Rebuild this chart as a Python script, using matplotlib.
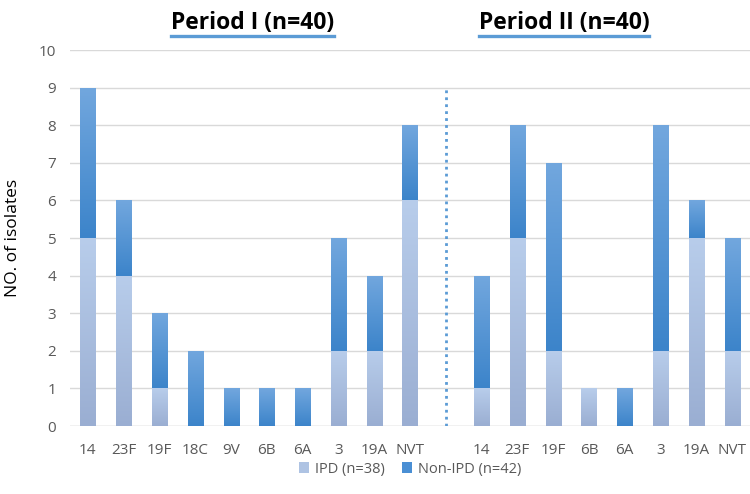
import matplotlib
matplotlib.use("Agg")
import matplotlib.pyplot as plt
import numpy as np
from matplotlib.colors import LinearSegmentedColormap
from matplotlib.patches import Patch

plt.rcParams['font.family'] = ['Open Sans', 'DejaVu Sans']

cats_p1 = ["14", "23F", "19F", "18C", "9V", "6B", "6A", "3", "19A", "NVT"]
ipd_p1 = [5, 4, 1, 0, 0, 0, 0, 2, 2, 6]
non_p1 = [4, 2, 2, 2, 1, 1, 1, 3, 2, 2]
cats_p2 = ["14", "23F", "19F", "6B", "6A", "3", "19A", "NVT"]
ipd_p2 = [1, 5, 2, 1, 0, 2, 5, 2]
non_p2 = [3, 3, 5, 0, 1, 6, 1, 3]
titles = ["Period I (n=40)", "Period II (n=40)"]
legend_labels = ["IPD (n=38)", "Non-IPD (n=42)"]

labels = cats_p1 + [""] + cats_p2
ipd = ipd_p1 + [0] + ipd_p2
non = non_p1 + [0] + non_p2
x = np.arange(len(labels))
gap_x = len(cats_p1)

fig = plt.figure(figsize=(7.5, 4.94), dpi=100)
ax = fig.add_axes([70/750, 1-426/494, 680/750, 376/494])

w = 0.42
b1 = ax.bar(x, ipd, width=w, color='none', edgecolor='none', zorder=3)
b2 = ax.bar(x, non, width=w, bottom=ipd, color='none', edgecolor='none', zorder=3)

cm_ipd = LinearSegmentedColormap.from_list('ipd', ['#9aaed2', '#b8cdeb'])
cm_non = LinearSegmentedColormap.from_list('non', ['#3c84ca', '#72a7de'])
grad = np.linspace(0, 1, 256).reshape(-1, 1)
for bars, cm in ((b1, cm_ipd), (b2, cm_non)):
    for p in bars:
        if p.get_height() <= 0:
            continue
        x0, y0 = p.get_x(), p.get_y()
        x1, y1 = x0 + p.get_width(), y0 + p.get_height()
        im = ax.imshow(grad, cmap=cm, origin='lower', aspect='auto',
                       extent=(x0, x1, y0, y1), zorder=3, interpolation='bilinear')
        im.set_clip_path(p)

ax.set_xlim(-0.5, len(labels) - 0.5)
ax.set_ylim(0, 10)
ax.set_yticks(range(0, 11))
ax.set_xticks(x)
ax.set_xticklabels(labels)
ax.tick_params(axis='both', length=0, labelsize=11, colors='#595959')
ax.tick_params(axis='x', pad=12)
ax.tick_params(axis='y', pad=10)
ax.yaxis.grid(True, color='#d9d9d9', linewidth=1, zorder=0)
ax.set_axisbelow(True)
for s in ax.spines.values():
    s.set_visible(False)
ax.axhline(0, color='#d9d9d9', linewidth=1, zorder=1)

ax.vlines(gap_x, 0, 9, colors='#5b9bd5', linestyles=(0, (1, 1.5)), linewidth=2, zorder=2)

ax.set_ylabel("NO. of isolates", fontsize=12.5, color='black', labelpad=13)

for cx, t in zip((4.6, 13.3), titles):
    ax.text(cx, 10.4, t, ha='center', va='bottom', fontsize=16.5,
            fontweight='bold', color='black', transform=ax.transData)
fig.canvas.draw()
r = fig.canvas.get_renderer()
for txt in ax.texts:
    bb = txt.get_window_extent(renderer=r)
    y = bb.y0 - 1
    fig.lines.append(plt.Line2D([bb.x0 / fig.bbox.width, bb.x1 / fig.bbox.width],
                                [y / fig.bbox.height, y / fig.bbox.height],
                                transform=fig.transFigure, color='#5b9bd5', linewidth=2.4))

handles = [Patch(facecolor='#aec3e3'), Patch(facecolor='#4a8fd4')]
fig.legend(handles, legend_labels, loc='center', bbox_to_anchor=(410/750, 1-469/494),
           ncol=2, frameon=False, fontsize=10.5, handlelength=0.7, handleheight=0.7,
           handletextpad=0.4, columnspacing=1.2, labelcolor='#595959')

fig.savefig("out.png", dpi=100)
